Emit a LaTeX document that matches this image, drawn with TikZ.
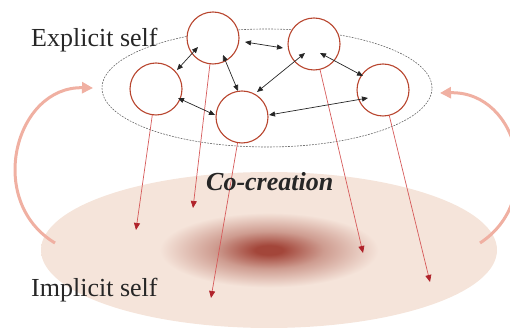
\documentclass[tikz,border=0pt]{standalone}
\usepackage{fontspec}
\setmainfont{Liberation Serif}
\usetikzlibrary{arrows}
\usetikzlibrary{arrows.meta}
\definecolor{selfred}{HTML}{B8452E}
\definecolor{linkred}{HTML}{D65A5A}
\definecolor{tipred}{HTML}{B0222A}
\definecolor{feedred}{HTML}{F0B0A2}
\definecolor{glowcore}{HTML}{A3463A}
\definecolor{glowmid}{HTML}{CE9C90}
\definecolor{glowpale}{HTML}{F5E4DA}
\pgfdeclareradialshading{implicitglow}{\pgfpoint{0bp}{0bp}}{color(0bp)=(glowcore); color(1.5bp)=(glowcore); color(6bp)=(glowmid); color(12bp)=(glowpale); color(50bp)=(glowpale)}

\begin{document}
\begin{tikzpicture}[line cap=round,line join=round,>={Triangle[length=6pt,width=5pt]},x=1pt,y=1pt,
  selfnode/.style={circle,draw=selfred,line width=1.1pt,fill=white,minimum size=52pt,inner sep=0pt},
  link/.style={<->,color=black!85,line width=0.7pt},
  descent/.style={-{Triangle[length=7pt,width=6pt,color=tipred]},color=linkred,line width=0.7pt},
  feedback/.style={-{Triangle[length=11pt,width=11pt]},color=feedred,line width=3pt,line cap=butt},
  selftext/.style={font=\fontsize{26}{30}\selectfont,text=black!85,inner sep=0pt,anchor=base west}]
        \useasboundingbox (0,0) rectangle (510,331);
        % implicit self
        \shade[shading=implicitglow] (269,81) ellipse (228 and 78);
        % arcs between the two levels
        \draw[feedback] (55,88) .. controls (-15,130) and (15,245) .. (93,243);
        \draw[feedback] (480,88) .. controls (545,130) and (520,240) .. (440,238);
        % explicit self
        \draw[color=black!60,line width=0.6pt,dash pattern=on 1.5pt off 1.5pt] (267,243) ellipse (165 and 59);
        \coordinate (iA) at (193,123);
        \coordinate (iB) at (363,78);
        \coordinate (iC) at (136,101);
        \coordinate (iD) at (211,33);
        \coordinate (iE) at (430,49);
        \node[selfnode] (A) at (213,293) {};
        \node[selfnode] (B) at (314,287) {};
        \node[selfnode] (C) at (156,242) {};
        \node[selfnode] (D) at (242,214) {};
        \node[selfnode] (E) at (383,241) {};
        \foreach \n in {A,B,C,D,E}
        \draw[descent] (\n) -- (i\n);
        \draw[link] ([shift={(32,-4)}]A.center) -- ([shift={(-31,-4)}]B.center);
        \draw[link] ([shift={(-15,-9)}]A.center) -- ([shift={(21,19)}]C.center);
        \draw[link] ([shift={(10,-17)}]A.center) -- ([shift={(-4,26)}]D.center);
        \draw[link] ([shift={(-9,-9)}]B.center) -- ([shift={(15,25)}]D.center);
        \draw[link] ([shift={(6,-9)}]B.center) -- ([shift={(-20,14)}]E.center);
        \draw[link] ([shift={(22,-9)}]C.center) -- ([shift={(-27,2)}]D.center);
        \draw[link] ([shift={(27,2)}]D.center) -- ([shift={(-15,-8)}]E.center);
        \node[selftext] (explicit) at (31,284) {Explicit self};
        \node[selftext] (implicit) at (31,34) {Implicit self};
        \node[selftext,font=\fontsize{26}{30}\selectfont\bfseries\itshape] (cocreation) at (206,140) {Co-creation};
\end{tikzpicture}
\end{document}
